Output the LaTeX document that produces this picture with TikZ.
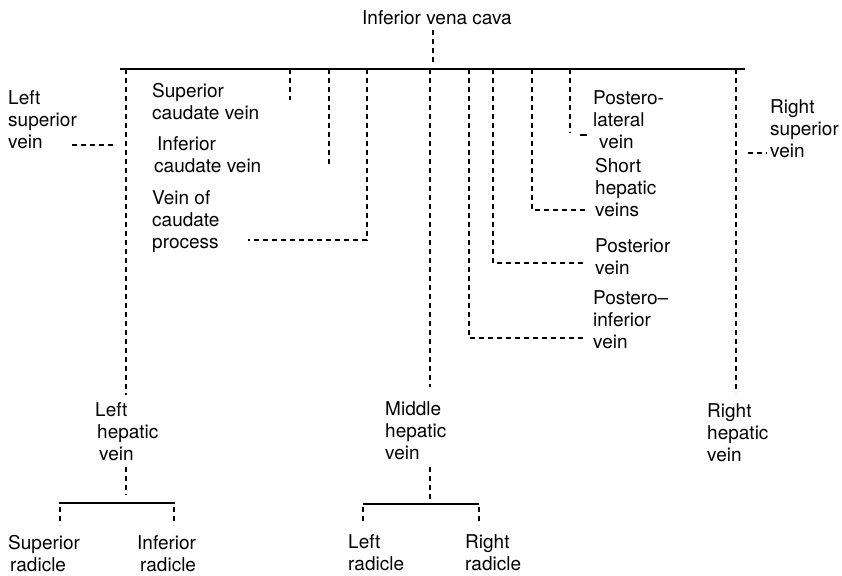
\documentclass[tikz,border=0pt]{standalone}
\usepackage{fontspec}
\setmainfont{TeX Gyre Heros}

\begin{document}
\begin{tikzpicture}[x=1pt,y=-1pt,
  lbl/.style={anchor=north west,inner sep=0pt,align=left,font=\fontsize{19}{22}\selectfont},
  vd/.style={line width=1.3pt,dash pattern=on 5pt off 4pt},
  trunk/.style={line width=1.6pt}]
\useasboundingbox (0,0) rectangle (842,575);
% labels
\node[lbl] (ivc)at(362,10){Inferior vena cava};
\node[lbl] (lsv)at(8,90){Left\\superior\\vein};
\node[lbl] (scv)at(152,83){Superior\\caudate vein};
\node[lbl] (icv)at(154,136){\hspace{3pt}Inferior\\caudate vein};
\node[lbl] (vcp)at(152,190){Vein of\\caudate\\process};
\node[lbl] (plv)at(593,90){Postero-\\lateral\\\hspace{6pt}vein};
\node[lbl] (shv)at(595,158){Short\\hepatic\\veins};
\node[lbl] (pv)at(595,238){Posterior\\vein};
\node[lbl] (piv)at(593,290){Postero--\\inferior\\vein};
\node[lbl] (rsv)at(770,99){Right\\superior\\vein};
\node[lbl] (lhv)at(95,402){Left\\\hspace{2pt}hepatic\\\hspace{4pt}vein};
\node[lbl] (mhv)at(385,401){Middle\\hepatic\\vein};
\node[lbl] (rhv)at(707,403){Right\\hepatic\\vein};
\node[lbl] (sr)at(8,535){Superior\\\hspace{2pt}radicle};
\node[lbl] (ir)at(137,535){Inferior\\\hspace{3pt}radicle};
\node[lbl] (lr)at(348,534){Left\\radicle};
\node[lbl] (rr)at(465,534){Right\\radicle};
% trunk and end points
\coordinate (ivcA)at(433,30);
\coordinate (ivcB)at(433,64);
\coordinate (barL)at(120,69);
\coordinate (barR)at(745,69);
\coordinate (lhvA)at(126,69);
\coordinate (lhvB)at(126,395);
\coordinate (lhvC)at(126,467);
\coordinate (lhvD)at(126,495);
\coordinate (lbarL)at(59,503);
\coordinate (lbarR)at(175,503);
\coordinate (srA)at(60,507);
\coordinate (srB)at(60,525);
\coordinate (irA)at(174,507);
\coordinate (irB)at(174,525);
\coordinate (lsvA)at(72,145);
\coordinate (lsvB)at(115,145);
\coordinate (scvA)at(290,69);
\coordinate (scvB)at(290,100);
\coordinate (icvA)at(329,69);
\coordinate (icvB)at(329,165);
\coordinate (vcpA)at(367,69);
\coordinate (vcpB)at(367,240);
\coordinate (vcpC)at(248,240);
\coordinate (mhvA)at(430,69);
\coordinate (mhvB)at(430,387);
\coordinate (mhvC)at(430,467);
\coordinate (mhvD)at(430,504);
\coordinate (mbarL)at(363,504);
\coordinate (mbarR)at(479,504);
\coordinate (lrA)at(363,507);
\coordinate (lrB)at(363,525);
\coordinate (rrA)at(479,507);
\coordinate (rrB)at(479,525);
\coordinate (pivA)at(469,69);
\coordinate (pivB)at(469,338);
\coordinate (pivC)at(585,338);
\coordinate (pvA)at(493,69);
\coordinate (pvB)at(493,263);
\coordinate (pvC)at(586,263);
\coordinate (shvA)at(532,69);
\coordinate (shvB)at(532,210);
\coordinate (shvC)at(586,210);
\coordinate (plvA)at(570,69);
\coordinate (plvB)at(570,133);
\coordinate (plvC)at(580,135);
\coordinate (plvD)at(587,135);
\coordinate (rhvA)at(736,69);
\coordinate (rhvB)at(736,393);
\coordinate (rsvA)at(748,153);
\coordinate (rsvB)at(767,153);
\draw[trunk] (barL) -- (barR);
\draw[trunk] (lbarL) -- (lbarR);
\draw[trunk] (mbarL) -- (mbarR);
\draw[vd] (ivcA) -- (ivcB);
\draw[vd] (lhvA) -- (lhvB);
\draw[vd] (lhvC) -- (lhvD);
\draw[vd] (srA) -- (srB);
\draw[vd] (irA) -- (irB);
\draw[vd] (lsvA) -- (lsvB);
\draw[vd] (scvA) -- (scvB);
\draw[vd] (icvA) -- (icvB);
\draw[vd] (vcpA) -- (vcpB) -- (vcpC);
\draw[vd] (mhvA) -- (mhvB);
\draw[vd] (mhvC) -- (mhvD);
\draw[vd] (lrA) -- (lrB);
\draw[vd] (rrA) -- (rrB);
\draw[vd] (pivA) -- (pivB) -- (pivC);
\draw[vd] (pvA) -- (pvB) -- (pvC);
\draw[vd] (shvA) -- (shvB) -- (shvC);
\draw[vd] (plvA) -- (plvB);
\draw[line width=1.3pt] (plvC) -- (plvD);
\draw[vd] (rhvA) -- (rhvB);
\draw[vd] (rsvA) -- (rsvB);
\end{tikzpicture}
\end{document}
